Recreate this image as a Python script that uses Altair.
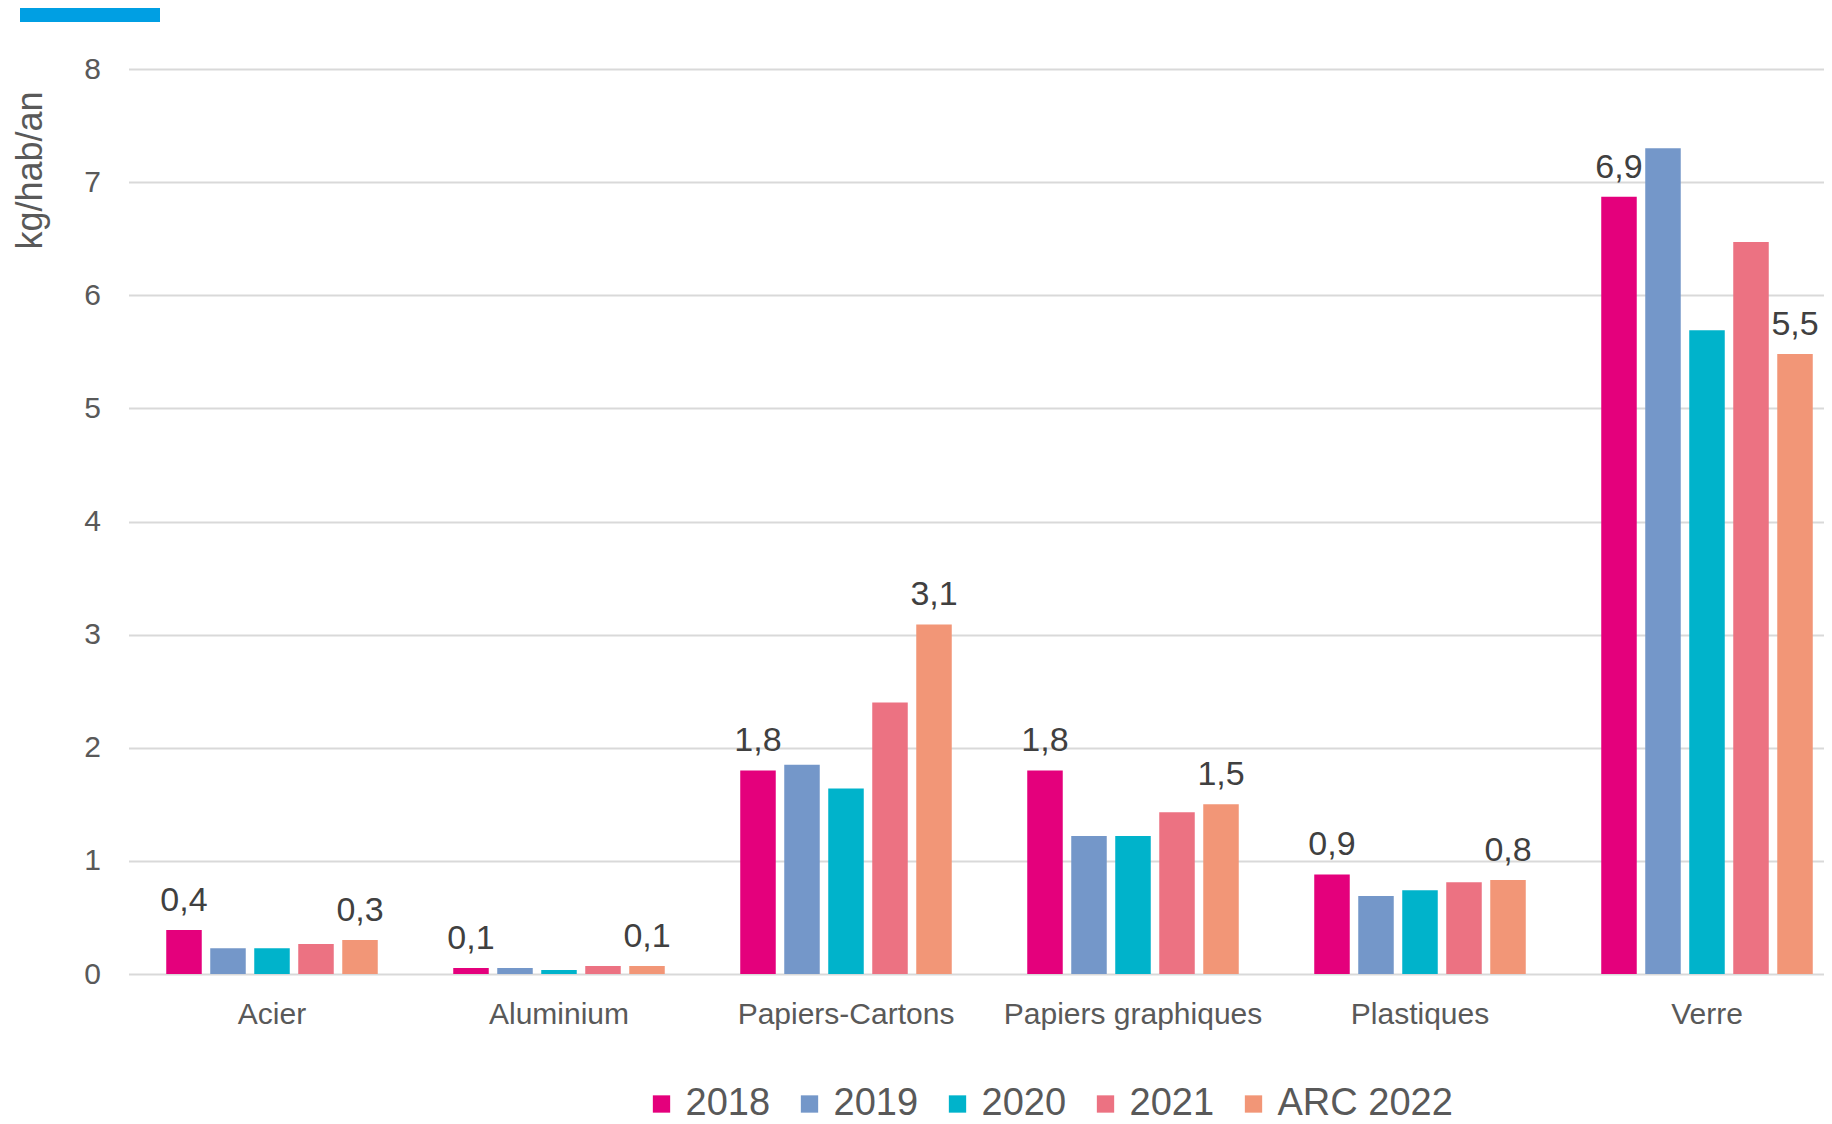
import altair as alt
import pandas as pd

categories = ["Acier", "Aluminium", "Papiers-Cartons", "Papiers graphiques", "Plastiques", "Verre"]
series = ["2018", "2019", "2020", "2021", "ARC 2022"]
colors = ["#E4007C", "#7497C9", "#00B3CB", "#EC7282", "#F29677"]

v2018 = [0.39, 0.053, 1.80, 1.80, 0.88, 6.87]
v2019 = [0.227, 0.053, 1.85, 1.22, 0.69, 7.30]
v2020 = [0.227, 0.035, 1.64, 1.22, 0.74, 5.69]
v2021 = [0.265, 0.07, 2.40, 1.43, 0.81, 6.47]
varc = [0.30, 0.07, 3.09, 1.50, 0.83, 5.48]
labelled_series = ["2018", "ARC 2022"]

rows = []
for s, vals in zip(series, [v2018, v2019, v2020, v2021, varc]):
    for c, v in zip(categories, vals):
        lab = ("%.1f" % (round(v + 1e-9, 1))).replace(".", ",") if s in labelled_series else ""
        rows.append({"cat": c, "serie": s, "val": v, "lab": lab})
df = pd.DataFrame(rows)

FONT = "Liberation Sans"

x_enc = alt.X("cat:N", sort=categories,
              scale=alt.Scale(range=[0, 1722], paddingInner=0.263, paddingOuter=0.1315),
              axis=alt.Axis(title=None, labelAngle=0, labelFontSize=30, labelColor="#595959",
                            labelFont=FONT, ticks=False, tickSize=0, domain=False,
                            labelBaseline="alphabetic", labelPadding=49, grid=False,
                            labelLimit=1000))
xo_enc = alt.XOffset("serie:N", sort=series,
                     scale=alt.Scale(paddingInner=0.193, paddingOuter=0))
y_enc = alt.Y("val:Q", scale=alt.Scale(domain=[0, 8], nice=False),
              axis=alt.Axis(title="kg/hab/an", values=[0, 1, 2, 3, 4, 5, 6, 7, 8], format="d",
                            labelFontSize=30, labelColor="#595959", labelFont=FONT,
                            ticks=False, tickSize=0, domain=False, labelPadding=28,
                            gridColor="#D9D9D9", gridWidth=2,
                            titleFontSize=36, titleFont=FONT, titleColor="#595959",
                            titleFontWeight="normal", titleAngle=270,
                            titleAlign="center", titleBaseline="middle",
                            titleX=-98, titleY=101))

bars = alt.Chart(df).mark_bar().encode(
    x=x_enc,
    xOffset=xo_enc,
    y=y_enc,
    color=alt.Color("serie:N", sort=series,
                    scale=alt.Scale(domain=series, range=colors),
                    legend=alt.Legend(title=None, orient="none", direction="horizontal",
                                      legendX=514, legendY=1016,
                                      symbolType="square", symbolSize=300,
                                      symbolStrokeWidth=0, labelFontSize=38,
                                      labelFont=FONT, labelColor="#595959",
                                      labelOffset=5, columnPadding=20,
                                      labelLimit=400, padding=0)),
)

texts = alt.Chart(df).transform_filter(alt.datum.lab != "").mark_text(
    baseline="alphabetic", align="center", dy=-19, fontSize=34, font=FONT, color="#404040"
).encode(
    x=alt.X("cat:N", sort=categories),
    xOffset=alt.XOffset("serie:N", sort=series),
    y="val:Q",
    text="lab:N",
)

deco = alt.Chart(pd.DataFrame({"k": [0]})).mark_rect(color="#009FE3").encode(
    x=alt.value(-108.5), x2=alt.value(31.5), y=alt.value(-61), y2=alt.value(-47)
)

chart = alt.layer(bars, texts, deco).properties(
    width=1695, height=905,
    autosize=alt.AutoSizeParams(type="none"),
    padding={"left": 120.5, "top": 61, "right": 0, "bottom": 150},
).configure(background="white").configure_view(stroke=None)

chart.save("out.html", embed_options={"renderer": "svg", "actions": False})
